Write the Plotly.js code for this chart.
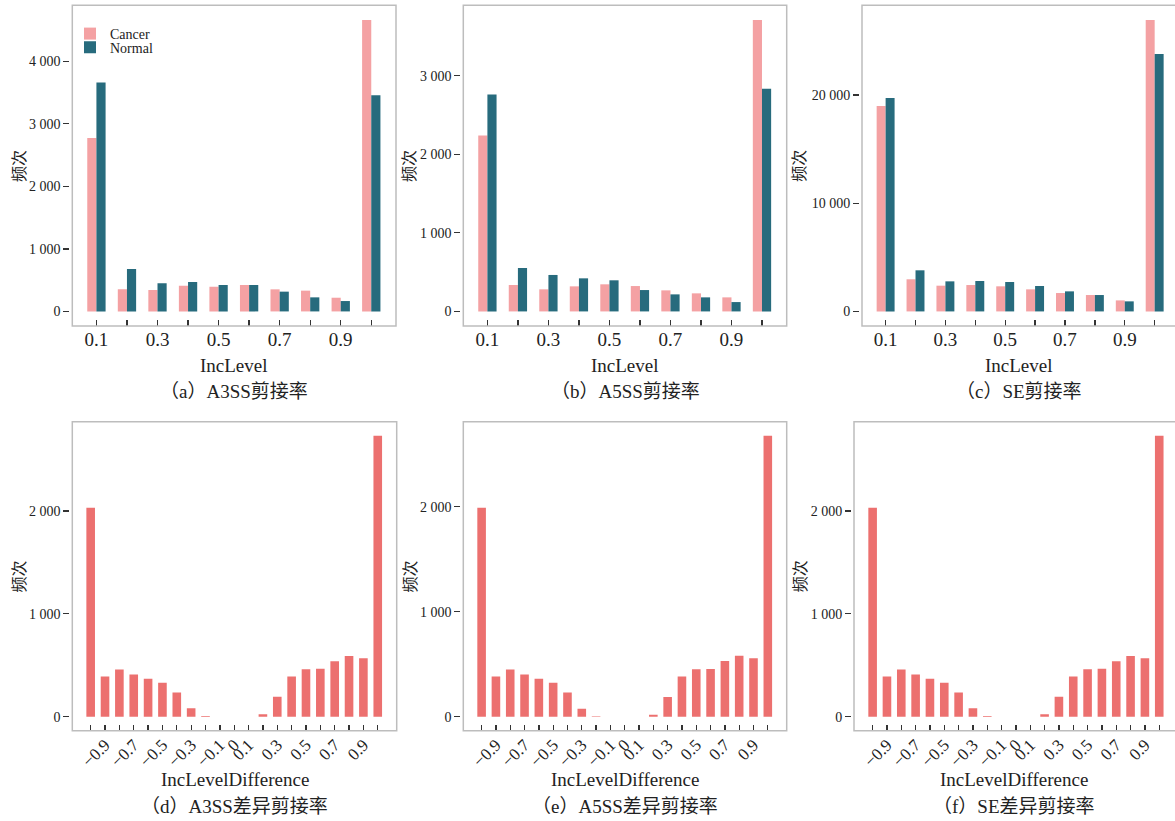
<!DOCTYPE html>
<html>
<head>
<meta charset="utf-8">
<script src="https://cdn.plot.ly/plotly-3.0.1.min.js"></script>
<style>
  html, body { margin: 0; padding: 0; background: #ffffff; overflow: hidden; }
  #chart { width: 1175px; height: 821px; }
</style>
</head>
<body>
<div id="chart"></div>
<script>
// ---- Splicing-rate histograms (IncLevel bins 0.1 .. 1.0) ----
const levels = [0.1, 0.2, 0.3, 0.4, 0.5, 0.6, 0.7, 0.8, 0.9, 1.0];
const levelTickLabels = ['0.1', '', '0.3', '', '0.5', '', '0.7', '', '0.9', ''];

const a3ssCancer = [2770, 353, 342, 412, 396, 422, 353, 332, 219, 4660];
const a3ssNormal = [3660, 680, 449, 471, 422, 422, 316, 225, 166, 3455];
const a5ssCancer = [2240, 336, 281, 319, 345, 323, 268, 230, 179, 3710];
const a5ssNormal = [2760, 553, 464, 421, 396, 272, 217, 179, 119, 2834];
const seCancer   = [18980, 2970, 2380, 2440, 2320, 2040, 1700, 1515, 1020, 26950];
const seNormal   = [19720, 3800, 2780, 2810, 2720, 2350, 1855, 1515, 930, 23800];

// ---- Differential splicing-rate histograms (IncLevelDifference bins -1.0 .. 1.0) ----
const diffBins = [-1.0, -0.9, -0.8, -0.7, -0.6, -0.5, -0.4, -0.3, -0.2, -0.1, 0,
                  0.1, 0.2, 0.3, 0.4, 0.5, 0.6, 0.7, 0.8, 0.9, 1.0];
const diffTickLabels = ['', '\u22120.9', '', '\u22120.7', '', '\u22120.5', '', '\u22120.3', '', '\u22120.1', '0',
                        '0.1', '', '0.3', '', '0.5', '', '0.7', '', '0.9', ''];

const a3ssDiff = [2030, 390, 458, 410, 368, 329, 235, 81, 6, 0, 0, 0, 23, 194, 390, 461, 465, 539, 590, 568, 2730];
const a5ssDiff = [1990, 382, 449, 401, 360, 322, 229, 76, 4, 0, 0, 0, 19, 188, 382, 452, 455, 529, 580, 557, 2676];
const seDiff   = [2032, 390, 458, 410, 368, 329, 235, 81, 6, 0, 0, 0, 23, 194, 390, 461, 465, 539, 590, 568, 2731];

const topCaptions = ['（a）A3SS剪接率', '（b）A5SS剪接率', '（c）SE剪接率'];
const bottomCaptions = ['（d）A3SS差异剪接率', '（e）A5SS差异剪接率', '（f）SE差异剪接率'];
const seriesNames = ['Cancer', 'Normal'];
const yTitle = '频次';
const xTitleTop = 'IncLevel';
const xTitleBottom = 'IncLevelDifference';

// ---- styling ----
const W = 1175, H = 821;
const CANCER = '#F4A1A3';
const NORMAL = '#276B7D';
const DIFF = '#EC706F';
const BORDER = '#bdbdbd';
const INK = '#222222';
const FONT = 'Liberation Serif, Noto Sans CJK SC, serif';

// panel boxes in pixels
const topRow = { t: 5.3, b: 326 };
const botRow = { t: 421.7, b: 730.7 };
const topBoxes = [{ l: 72.3, r: 396 }, { l: 463.3, r: 786.7 }, { l: 862, r: 1175 }];
const botBoxes = [{ l: 72.3, r: 396.7 }, { l: 463.3, r: 786.7 }, { l: 854, r: 1175 }];
const topXRange = [[0.021, 1.081], [0.021, 1.081], [0.021, 1.068]];
const botXRange = [[-1.128, 1.132], [-1.128, 1.132], [-1.13, 1.11]];
const topDtick = [1000, 1000, 10000];
const yTitleOffset = [[53, 54, 62], [53, 53, 54]];
const legendRows = [34, 47.7];   // vertical centre of each legend entry

const px = v => v / W;
const py = v => 1 - v / H;

const topData = [[a3ssCancer, a3ssNormal], [a5ssCancer, a5ssNormal], [seCancer, seNormal]];
const botData = [a3ssDiff, a5ssDiff, seDiff];

function legendBox(centre) {
  return {
    x: px(70), y: py(centre), xanchor: 'left', yanchor: 'middle',
    font: { family: FONT, size: 14, color: INK },
    bgcolor: 'rgba(0,0,0,0)', borderwidth: 0, itemwidth: 30,
    tracegroupgap: 0
  };
}

const traces = [];
const layout = {
  width: W, height: H,
  margin: { l: 0, r: 0, t: 0, b: 0 },
  paper_bgcolor: '#ffffff',
  plot_bgcolor: '#ffffff',
  font: { family: FONT, color: INK, size: 14 },
  separators: '. ',
  barmode: 'group',
  bargap: 0.4,
  bargroupgap: 0,
  showlegend: true,
  legend: legendBox(legendRows[0]),
  legend2: legendBox(legendRows[1]),
  shapes: [],
  annotations: []
};

function axisStyle(extra) {
  return Object.assign({
    showgrid: false, zeroline: false, showline: false,
    ticks: 'outside', ticklen: 6, tickwidth: 1.3, tickcolor: '#333333',
    tickfont: { family: FONT, size: 14, color: INK },
    fixedrange: true
  }, extra);
}

function addPanel(idx, box, row, xRange, yMax, dtick, xTickVals, xTickText, tickAngle, xTickSize, xTitle, caption, titleOff, titleY, captionY) {
  const sfx = idx === 1 ? '' : String(idx);
  layout['xaxis' + sfx] = axisStyle({
    domain: [px(box.l), px(box.r)],
    anchor: 'y' + sfx,
    range: xRange,
    ticks: 'inside',
    tickmode: 'array', tickvals: xTickVals, ticktext: xTickText,
    tickangle: tickAngle,
    tickfont: { family: FONT, size: xTickSize, color: INK }
  });
  layout['yaxis' + sfx] = axisStyle({
    domain: [py(row.b), py(row.t)],
    anchor: 'free',
    position: px(box.l - 3),
    range: [-0.05 * yMax, 1.05 * yMax],
    dtick: dtick, tick0: 0,
    tickformat: ','
  });
  // frame around the plotting area
  layout.shapes.push({
    type: 'rect', xref: 'x' + sfx + ' domain', yref: 'y' + sfx + ' domain',
    x0: 0, x1: box.r >= W ? 1.05 : 1, y0: 0, y1: 1,
    line: { color: BORDER, width: 1.5 }, fillcolor: 'rgba(0,0,0,0)', layer: 'above'
  });
  const cx = (box.l + box.r) / 2;
  layout.annotations.push(
    { text: yTitle, xref: 'paper', yref: 'paper', x: px(box.l - titleOff), y: py((row.t + row.b) / 2),
      textangle: -90, showarrow: false, xanchor: 'center', yanchor: 'middle',
      font: { family: FONT, size: 16, color: INK } },
    { text: xTitle, xref: 'paper', yref: 'paper', x: px(cx), y: py(titleY),
      showarrow: false, xanchor: 'center', yanchor: 'middle',
      font: { family: FONT, size: 19, color: INK } },
    { text: caption, xref: 'paper', yref: 'paper', x: px(cx), y: py(captionY),
      showarrow: false, xanchor: 'center', yanchor: 'middle',
      font: { family: FONT, size: 19, color: INK } }
  );
}

// top row: grouped Cancer / Normal bars
topData.forEach((pair, i) => {
  const idx = i + 1;
  const sfx = idx === 1 ? '' : String(idx);
  pair.forEach((vals, k) => {
    traces.push({
      type: 'bar', x: levels, y: vals, name: seriesNames[k],
      xaxis: 'x' + sfx, yaxis: 'y' + sfx,
      marker: { color: k === 0 ? CANCER : NORMAL, line: { width: 0 } },
      showlegend: i === 0, legend: k === 0 ? 'legend' : 'legend2'
    });
  });
  const yMax = Math.max(...pair[0], ...pair[1]);
  addPanel(idx, topBoxes[i], topRow, topXRange[i], yMax, topDtick[i],
           levels, levelTickLabels, 0, 19, xTitleTop, topCaptions[i], yTitleOffset[0][i], 365.7, 391.7);
});

// bottom row: IncLevelDifference histograms
botData.forEach((vals, i) => {
  const idx = i + 4;
  traces.push({
    type: 'bar', x: diffBins, y: vals, name: bottomCaptions[i],
    xaxis: 'x' + idx, yaxis: 'y' + idx,
    marker: { color: DIFF, line: { width: 0 } },
    showlegend: false
  });
  addPanel(idx, botBoxes[i], botRow, botXRange[i], Math.max(...vals), 1000,
           diffBins, diffTickLabels, -45, 17, xTitleBottom, bottomCaptions[i], yTitleOffset[1][i], 779.3, 806.7);
});

Plotly.newPlot('chart', traces, layout, { staticPlot: true, displayModeBar: false });
</script>
</body>
</html>
